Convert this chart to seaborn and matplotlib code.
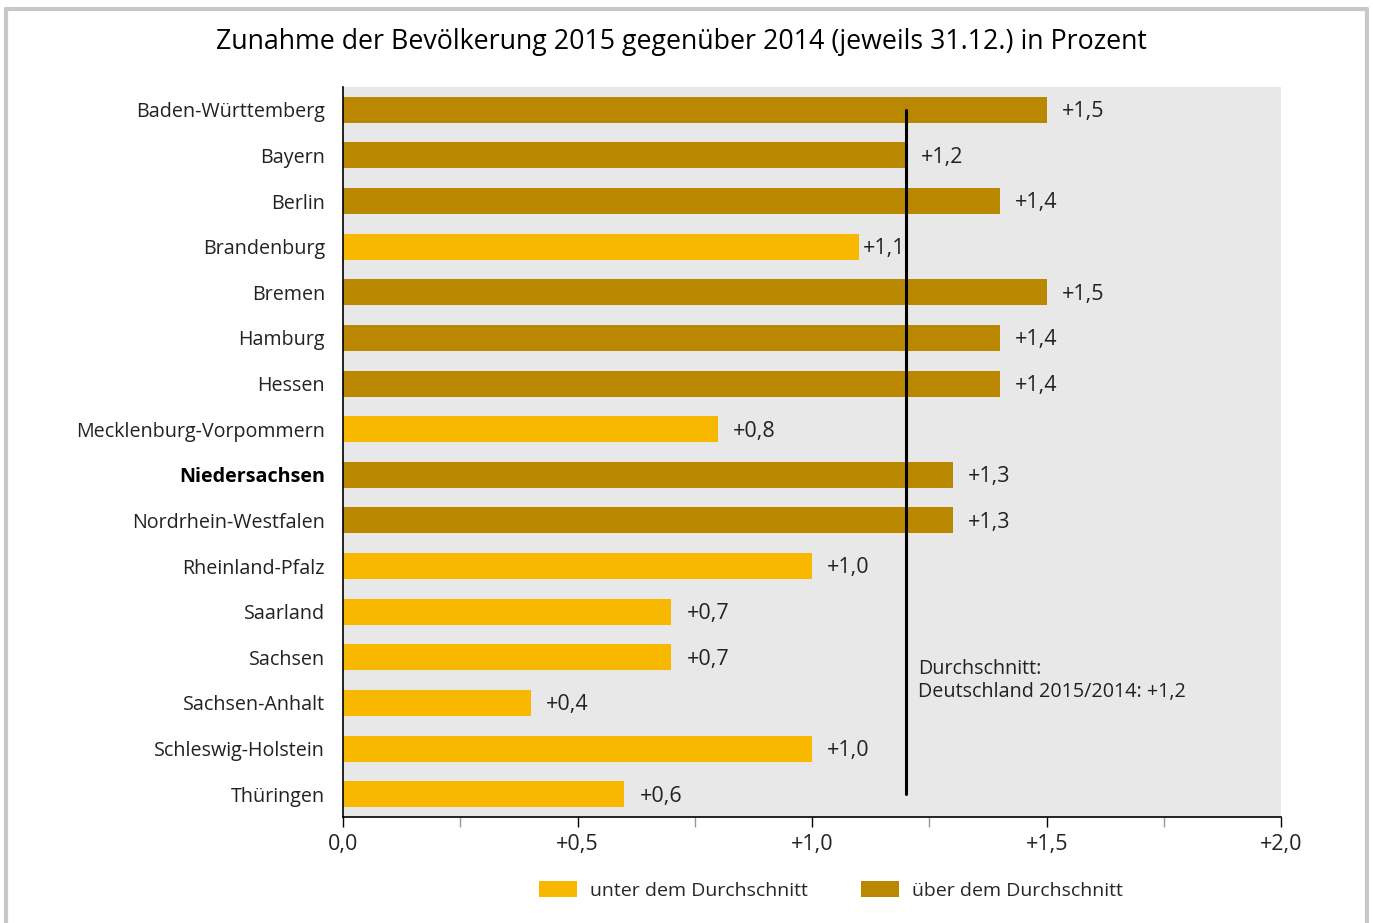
import numpy as np
import pandas as pd
import matplotlib.pyplot as plt
from matplotlib.lines import Line2D
from matplotlib.ticker import FixedLocator, FuncFormatter
import seaborn as sns

# data
states = ["Baden-Württemberg", "Bayern", "Berlin", "Brandenburg", "Bremen",
          "Hamburg", "Hessen", "Mecklenburg-Vorpommern", "Niedersachsen",
          "Nordrhein-Westfalen", "Rheinland-Pfalz", "Saarland", "Sachsen",
          "Sachsen-Anhalt", "Schleswig-Holstein", "Thüringen"]
growth = [1.5, 1.2, 1.4, 1.1, 1.5, 1.4, 1.4, 0.8, 1.3, 1.3, 1.0, 0.7, 0.7, 0.4, 1.0, 0.6]
average = 1.2
groups = ["unter dem Durchschnitt", "über dem Durchschnitt"]
colors = ["#F9B800", "#BA8800"]

df = pd.DataFrame({"state": states, "growth": growth})
df["group"] = np.where(df["growth"] >= average, groups[1], groups[0])


def fmt(v, pos=None):
    s = "%.1f" % v
    s = s.replace(".", ",")
    return s if v == 0 else "+" + s


sns.set_theme(style="white")
plt.rcParams['font.family'] = ['Open Sans', 'DejaVu Sans']

fig = plt.figure(figsize=(13.73, 9.23), dpi=100)
ax = fig.add_axes([0.2498, 0.1148, 0.6834, 0.7909])
ax.set_facecolor("#E8E8E8")

sns.barplot(data=df, x="growth", y="state", hue="group", hue_order=groups,
            palette=colors, dodge=False, width=0.57, order=states,
            saturation=1, linewidth=0, ax=ax, legend=True)

ax.set_xlim(0, 2.0)
ax.set_ylim(15.5, -0.5)

# average line
ax.plot([average, average], [0, 15], color="black", lw=2.2, zorder=5)
ax.text(average + 0.026, 12.5, "Durchschnitt:\nDeutschland 2015/2014: " + fmt(average),
        va="center", ha="left", fontsize=14.2, color="#222222", linespacing=1.2)

# value labels
for i, v in enumerate(growth):
    off = 0.032
    if v < average and v + 0.2 > average:
        off = 0.008
    ax.text(v + off, i + 0.04, fmt(v), va="center", ha="left", fontsize=15.5, color="#222222")

# axes styling
for s in ["top", "right"]:
    ax.spines[s].set_visible(False)
for s in ["left", "bottom"]:
    ax.spines[s].set_color("black")
    ax.spines[s].set_linewidth(1.2)

ax.xaxis.set_major_locator(FixedLocator([0, 0.5, 1.0, 1.5, 2.0]))
ax.xaxis.set_minor_locator(FixedLocator([0.25, 0.75, 1.25, 1.75]))
ax.xaxis.set_major_formatter(FuncFormatter(fmt))
ax.tick_params(axis="x", which="major", direction="out", length=7, width=1, color="black",
               labelsize=15.5, pad=5, bottom=True)
ax.tick_params(axis="x", which="minor", direction="out", length=7, width=1, color="#999999",
               bottom=True)
ax.tick_params(axis="y", length=0, labelsize=14.2, pad=13)
ax.set_xlabel("")
ax.set_ylabel("")
for lab in ax.get_yticklabels():
    lab.set_color("#222222")
    if lab.get_text() == "Niedersachsen":
        lab.set_fontweight("bold")
        lab.set_color("black")
for lab in ax.get_xticklabels():
    lab.set_color("#222222")

# legend
handles, labels = ax.get_legend_handles_labels()
ax.legend(handles, labels, loc="upper center", bbox_to_anchor=(0.52, -0.063), ncol=2,
          frameon=False, fontsize=14, handlelength=1.95, handleheight=0.95,
          columnspacing=2.7, handletextpad=0.7)

fig.text(0.496, 0.955, "Zunahme der Bevölkerung 2015 gegenüber 2014 (jeweils 31.12.) in Prozent",
         ha="center", va="center", fontsize=19.3, color="black")

# outer frame
frame_kw = dict(transform=fig.transFigure, color="#C8C8C8", lw=3.0)
fig.add_artist(Line2D([0.0044, 0.0044], [0.0, 0.9902], **frame_kw))
fig.add_artist(Line2D([0.0044, 0.9956], [0.9902, 0.9902], **frame_kw))
fig.add_artist(Line2D([0.9956, 0.9956], [0.0, 0.9902], **frame_kw))

fig.savefig("out.png", dpi=100)
